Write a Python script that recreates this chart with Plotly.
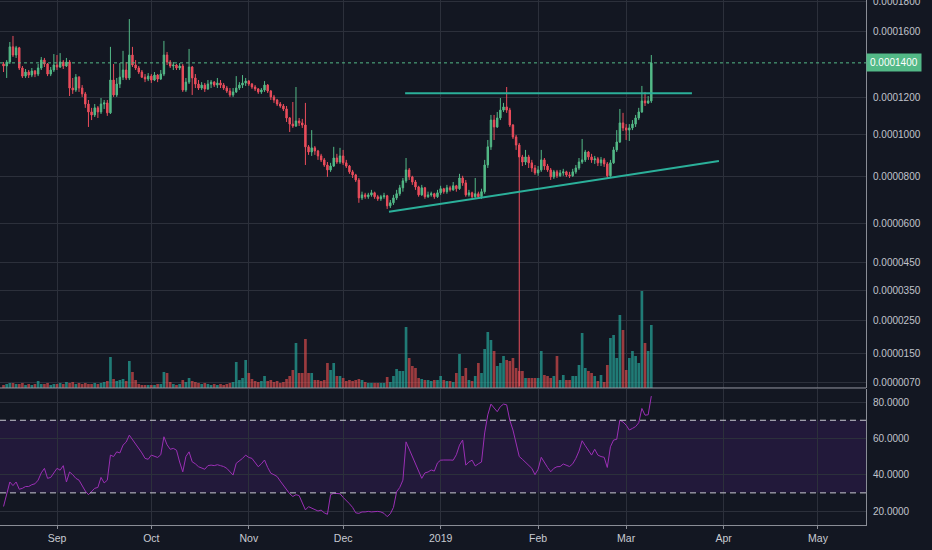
import numpy as np
import pandas as pd
import plotly.graph_objects as go

# ---------------- data (prices in satoshi, 1 sat = 1e-8) ----------------
START_DATE = "2018-08-15"
FIRST_OPEN = 13930

close_sats = [
    13810, 14050, 14990, 14480, 14930, 13690, 13210, 13450, 13270, 13510,
    13330, 13690, 14170, 13930, 13330, 13570, 13870, 13750, 14050, 13810,
    14050, 12520, 12410, 13150, 12520, 12190, 11630, 11200, 11040, 11420,
    11200, 11630, 11690, 11150, 12980, 12130, 12750, 13150, 13570, 13100,
    14480, 13870, 13690, 13450, 13150, 13040, 13210, 12980, 13270, 13040,
    13330, 14480, 14050, 13810, 13870, 13690, 13810, 12410, 12860, 13750,
    13100, 12750, 12520, 12690, 12470, 12750, 12860, 12690, 12810, 12690,
    12520, 12350, 12130, 12300, 12520, 12690, 12810, 12920, 12750, 12580,
    12470, 12300, 12410, 12690, 12350, 12020, 11850, 11630, 11520, 11360,
    10880, 10560, 10460, 10720, 10620, 10510, 9410, 9160, 9360, 9210,
    8970, 8780, 8540, 8310, 8490, 8870, 8680, 8970, 8640, 8490,
    8220, 8080, 7850, 7060, 7190, 7110, 7190, 7280, 7110, 7020,
    7110, 7150, 6720, 6850, 7060, 7240, 7500, 7810, 8310, 7990,
    7760, 7540, 7190, 7500, 7110, 7190, 7240, 7110, 7280, 7460,
    7330, 7500, 7410, 7590, 7460, 7940, 7720, 7190, 7280, 7110,
    7240, 7110, 7330, 8540, 9410, 10770, 10410, 10880, 11300, 11470,
    11300, 10510, 9900, 9500, 8920, 8680, 8920, 8640, 8400, 8170,
    8310, 8780, 8490, 8310, 7990, 8220, 8040, 8170, 8220, 8080,
    8040, 8220, 8400, 8680, 8780, 9160, 8920, 8780, 8830, 8640,
    8780, 8590, 8040, 8640, 9260, 9650, 10620, 10360, 10250, 10360,
    10560, 10880, 11200, 11800, 11690, 11800, 14000,
]
high_sats = [
    14050, 14170, 15300, 15690, 15050, 14990, 13810, 13630, 13570, 13690,
    13570, 13930, 14360, 14300, 13990, 13750, 14540, 14480, 14600, 14170,
    14300, 14170, 13100, 13330, 13210, 12690, 12300, 11850, 11420, 11630,
    11520, 11960, 11850, 11850, 14990, 13930, 13100, 13990, 14740, 14050,
    16810, 14990, 14170, 13810, 13570, 13330, 13390, 13330, 13450, 13330,
    13570, 15370, 14670, 14170, 14050, 13930, 13990, 13930, 13100, 14860,
    13810, 13330, 12980, 12860, 12810, 12980, 12980, 12920, 13100, 12980,
    12810, 12640, 12520, 12520, 13210, 12860, 13270, 13100, 12980, 12810,
    12690, 12520, 12520, 12920, 12750, 12410, 12130, 11910, 11740, 11630,
    11520, 10930, 11740, 12580, 10880, 10830, 11690, 9500, 10250, 9450,
    9260, 9070, 8870, 8680, 8640, 9410, 9070, 9360, 9260, 8780,
    8540, 8310, 8130, 7940, 7330, 7280, 7280, 7410, 7330, 7190,
    7190, 7280, 7190, 6970, 7190, 7410, 7630, 7940, 8870, 8400,
    8040, 7850, 7590, 7630, 7540, 7330, 7330, 7280, 7410, 7590,
    7500, 7630, 7590, 7760, 7630, 8130, 8040, 7850, 7410, 7330,
    7940, 7330, 7460, 8780, 9750, 11040, 11040, 11200, 11960, 11690,
    12580, 11420, 10560, 10000, 9600, 9020, 9260, 9020, 8780, 8540,
    8490, 9260, 8870, 8590, 8400, 8310, 8310, 8310, 8360, 8270,
    8220, 8360, 8540, 8870, 9800, 9260, 9210, 9070, 8970, 8920,
    8920, 8870, 8680, 8780, 9410, 10250, 11360, 11150, 10560, 10560,
    10770, 11040, 11420, 12640, 12300, 12070, 14480,
]
low_sats = [
    13450, 13100, 13930, 14360, 14300, 13570, 13100, 13100, 13100, 13150,
    13150, 13210, 13570, 13750, 13210, 13210, 13450, 13570, 13690, 13630,
    13750, 12070, 12190, 12300, 12300, 12020, 11420, 10410, 10770, 10930,
    10880, 11090, 11360, 10990, 11090, 12020, 12020, 12520, 12980, 12980,
    12980, 13750, 13570, 13330, 13100, 12860, 12920, 12810, 12920, 12860,
    12980, 13210, 13870, 13690, 13570, 13570, 13570, 12300, 12300, 12750,
    12130, 12520, 12410, 12410, 12300, 12410, 12520, 12580, 12520, 12520,
    12410, 12240, 12020, 12020, 12240, 12410, 12520, 12640, 12640, 12470,
    12350, 12190, 12190, 12300, 12240, 11850, 11690, 11520, 11420, 11250,
    10670, 10150, 10360, 10410, 10460, 10360, 8540, 9020, 8970, 9020,
    8780, 8680, 8450, 7990, 8220, 8450, 8590, 8590, 8540, 8400,
    8130, 7940, 7760, 6850, 6970, 7020, 7020, 7110, 7020, 6930,
    6930, 7020, 6590, 6630, 6760, 6970, 7150, 7330, 7720, 7850,
    7630, 7410, 7110, 7150, 7020, 7060, 7110, 7020, 7060, 7190,
    7240, 7240, 7330, 7370, 7330, 7410, 7590, 7110, 7110, 7020,
    7060, 7020, 7020, 7240, 8400, 9260, 9750, 10360, 10770, 11200,
    11150, 10410, 9800, 9260, 600, 8490, 8540, 8400, 8220, 8080,
    8040, 8220, 8310, 8220, 7850, 7900, 7940, 7990, 8040, 7990,
    7940, 7990, 8130, 8310, 8590, 8680, 8780, 8640, 8590, 8490,
    8490, 8450, 7940, 7990, 8590, 9160, 9600, 10200, 9750, 9700,
    10250, 10410, 10770, 11150, 11520, 11630, 11690,
]
volume = [
    3, 4, 5, 5, 4, 4, 5, 3, 4, 3, 4, 7, 4, 4, 5, 3, 4,
    4, 5, 4, 6, 5, 6, 4, 5, 4, 5, 4, 4, 5, 4, 5, 6, 7,
    31,
    9, 7, 8, 9, 7, 27, 16, 8,
    4, 3, 3, 3, 3, 3, 4, 4,
    16, 15, 6, 4, 3, 4,
    8, 6, 10, 7, 6, 5, 4, 5, 4, 3, 4, 3, 4, 3, 4, 5, 6,
    26, 8, 10, 28, 15, 9, 7, 6, 7, 12, 7, 8, 6, 7, 5, 6,
    9, 12, 18, 45, 15, 15, 49, 15, 15, 8,
    8, 7, 8, 25, 18, 25, 12, 12, 10, 7,
    8, 7, 8, 9, 8, 6, 5, 5, 5, 5, 5, 5,
    11, 6, 12, 19, 17, 17, 61, 30, 22, 20,
    10, 9, 8, 8, 7, 8, 8, 12, 8, 7, 7, 6,
    15, 34, 12, 20, 8, 7, 12, 25, 15,
    39, 56, 48, 37, 22, 25, 32, 28, 27, 30, 20, 17, 17,
    10, 10, 10, 10, 10, 37, 13, 12, 10,
    12, 32, 8, 13, 8, 8, 12, 12, 23, 55,
    20, 17, 15, 12, 7, 13, 6,
    23, 50, 53, 30, 73, 58, 18, 30, 37, 32, 25, 97, 45, 37, 63,
]
rsi = [
    22.5, 30, 36, 34, 36, 32, 32.5, 33.5, 33.5, 34.5,
    35, 37, 41, 43.5, 38, 38.5, 41, 43.5, 42.5, 45,
    36, 41.5, 40, 38, 37, 34, 31, 29, 31, 32.5,
    33, 38.5, 35.5, 37, 50.8, 50, 52.6, 52, 56.3, 58,
    61.8, 59.5, 57, 55, 52, 49, 48.5, 50.8, 50, 49.5,
    51, 60.9, 56.5, 54, 54.5, 53.5, 47, 41.6, 50, 52.6,
    47.1, 46, 44.4, 43.5, 43, 45, 45.3, 45, 45.5, 45,
    44.5, 43.5, 41.5, 39.8, 46.3, 47.5, 49, 50.8, 49.5, 49,
    46.5, 44.4, 46, 48.1, 44, 40.8, 40, 39, 36.5, 34,
    31.6, 29.5, 28, 29, 28.5, 25, 20.6, 22.4, 21.5, 21,
    20, 20.5, 19, 18.2, 29, 29.8, 29.8, 29.5, 27.5, 26,
    24, 22, 19, 18.7, 19.5, 19.5, 19.8, 19.5, 19.8, 19.8,
    19.5, 18.7, 16.9, 18.5, 22, 30.6, 33, 37, 58.1, 54,
    50, 46.3, 41.5, 38, 41, 41.5, 42.6, 42, 46.5, 48,
    48.1, 48.3, 48.1, 48, 51, 56.3, 59.1, 45.3, 47, 48,
    44.8, 46, 47, 63, 73, 78.9, 76.5, 74.7, 77.5, 78.9,
    78.5, 70, 64.6, 58, 50, 48.5, 47, 45, 43.5, 40,
    43, 49.6, 46.5, 44, 41.6, 43.5, 44.4, 44.5, 45.9, 45,
    44.5, 46, 49, 53, 58.7, 56, 53, 50.8, 54, 50.8,
    50, 49.6, 44, 55.4, 59.1, 59.5, 70.1, 69, 67.3, 64.6,
    65.5, 66.5, 68.6, 76.5, 72.8, 73, 83.3,
]

price_ticks = [0.00018, 0.00016, 0.00012, 0.0001, 0.00008, 0.00006,
               0.000045, 0.000035, 0.000025, 0.000015, 0.000007]
rsi_ticks = [20, 40, 60, 80]
month_ticks = ["2018-09-01", "2018-10-01", "2018-11-01", "2018-12-01", "2019-01-01",
               "2019-02-01", "2019-03-01", "2019-04-01", "2019-05-01"]
month_labels = ["Sep", "Oct", "Nov", "Dec", "2019", "Feb", "Mar", "Apr", "May"]
last_price = 0.00014
resistance_x = ["2018-12-20 17:00", "2019-03-21 22:00"]
resistance_y = [0.0001222, 0.0001222]
support_x = ["2018-12-15 14:00", "2019-03-30 12:00"]
support_y = [0.0000647, 0.0000873]
rsi_upper, rsi_lower = 70, 30

# ---------------- styling ----------------
SAT = 1e-8
OFFSET = 1e-4          # the chart's price scale is logarithmic in (price + 1e-4)
BG = "#131722"
GRID = "#2c303b"
AXIS = "#8a8d96"
TXT = "#c0c3cb"
UP = "#53b987"
DOWN = "#eb4d5c"
LINE = "#2bb09a"
FONT = "Liberation Sans, Arial, sans-serif"
X_RANGE = ["2018-08-13 21:00", "2019-05-16 06:30"]
Y_LOG_RANGE = [-3.97669, -3.55078]
PRICE_DOM = [0.2610, 1.0]
RSI_DOM = [0.0, 0.259]

n = len(close_sats)
assert len(high_sats) == n and len(low_sats) == n and len(volume) == n and len(rsi) == n

dates = pd.date_range(START_DATE, periods=n, freq="D")
close = np.array(close_sats, dtype=float) * SAT
high = np.array(high_sats, dtype=float) * SAT
low = np.array(low_sats, dtype=float) * SAT
open_ = np.concatenate([[FIRST_OPEN], close_sats[:-1]]).astype(float) * SAT

vol_colors = ["rgba(38,166,154,0.7)" if c >= o else "rgba(239,83,80,0.62)"
              for o, c in zip(open_, close)]

fig = go.Figure()

fig.add_trace(go.Bar(
    x=dates, y=volume, marker=dict(color=vol_colors, line=dict(width=0)),
    xaxis="x", yaxis="y", hoverinfo="skip",
))
fig.add_trace(go.Candlestick(
    x=dates, open=open_ + OFFSET, high=high + OFFSET, low=low + OFFSET, close=close + OFFSET,
    increasing=dict(line=dict(color=UP, width=1), fillcolor=UP),
    decreasing=dict(line=dict(color=DOWN, width=1), fillcolor=DOWN),
    xaxis="x", yaxis="y2", hoverinfo="skip",
))
fig.add_trace(go.Scatter(
    x=X_RANGE, y=[last_price + OFFSET] * 2, mode="lines",
    line=dict(color=UP, width=1, dash="dot"), xaxis="x", yaxis="y2", hoverinfo="skip",
))
fig.add_trace(go.Scatter(
    x=resistance_x, y=np.array(resistance_y) + OFFSET, mode="lines",
    line=dict(color=LINE, width=2), xaxis="x", yaxis="y2", hoverinfo="skip",
))
fig.add_trace(go.Scatter(
    x=support_x, y=np.array(support_y) + OFFSET, mode="lines",
    line=dict(color=LINE, width=2), xaxis="x", yaxis="y2", hoverinfo="skip",
))
fig.add_trace(go.Scatter(
    x=dates, y=rsi, mode="lines", line=dict(color="#9b2fb5", width=1),
    xaxis="x2", yaxis="y3", hoverinfo="skip",
))

tickfont = dict(family=FONT, size=10, color=TXT)

fig.update_layout(
    width=932, height=550,
    margin=dict(l=0, r=66, t=0, b=25, autoexpand=False),
    paper_bgcolor=BG, plot_bgcolor=BG,
    showlegend=False, hovermode=False, bargap=0.15, boxgap=0.35,
    xaxis=dict(domain=[0, 1], anchor="y", type="date", range=X_RANGE,
               tickvals=month_ticks, showticklabels=False, showgrid=True,
               gridcolor=GRID, gridwidth=1, zeroline=False, ticks="",
               automargin=False, rangeslider=dict(visible=False)),
    xaxis2=dict(domain=[0, 1], anchor="y3", type="date", matches="x",
                tickvals=month_ticks, ticktext=month_labels, showgrid=True,
                gridcolor=GRID, gridwidth=1, zeroline=False, automargin=False,
                showline=True, linecolor=AXIS, linewidth=1,
                ticks="outside", ticklen=3, tickcolor=AXIS,
                tickfont=dict(family=FONT, size=10.5, color="#c8cbd2")),
    yaxis=dict(domain=PRICE_DOM, anchor="x", range=[0, max(volume) * 4.0],
               showgrid=False, showticklabels=False, zeroline=False, ticks="",
               automargin=False),
    yaxis2=dict(overlaying="y", anchor="x", side="right", type="log",
                range=Y_LOG_RANGE,
                tickvals=[t + OFFSET for t in price_ticks],
                ticktext=[f"{t:.7f}" for t in price_ticks],
                ticklabeloverflow="allow", automargin=False,
                showgrid=True, gridcolor=GRID, gridwidth=1, zeroline=False,
                showline=True, linecolor=AXIS, linewidth=1,
                ticks="outside", ticklen=4, tickcolor=BG, tickfont=tickfont),
    yaxis3=dict(domain=RSI_DOM, anchor="x2", side="right", range=[12.3, 87.2],
                tickvals=rsi_ticks, ticktext=[f"{t:.4f}" for t in rsi_ticks],
                automargin=False,
                showgrid=True, gridcolor=GRID, gridwidth=1, zeroline=False,
                showline=True, linecolor=AXIS, linewidth=1,
                ticks="outside", ticklen=4, tickcolor=BG, tickfont=tickfont),
    shapes=[
        dict(type="rect", xref="paper", yref="y3", x0=0, x1=1, y0=rsi_lower, y1=rsi_upper,
             fillcolor="rgba(150,40,240,0.12)", line=dict(width=0), layer="below"),
        dict(type="line", xref="paper", yref="y3", x0=0, x1=1, y0=rsi_upper, y1=rsi_upper,
             line=dict(color="#c9cad2", width=1, dash="6px,4px")),
        dict(type="line", xref="paper", yref="y3", x0=0, x1=1, y0=rsi_lower, y1=rsi_lower,
             line=dict(color="#c9cad2", width=1, dash="6px,4px")),
        dict(type="line", xref="paper", yref="paper", x0=0, x1=1,
             y0=PRICE_DOM[0], y1=PRICE_DOM[0], line=dict(color="#9598a1", width=1)),
    ],
    annotations=[
        dict(xref="paper", yref="y2", x=1, y=float(np.log10(last_price + OFFSET)),
             xanchor="left", yanchor="middle", showarrow=False,
             text=f"{last_price:.7f}", bgcolor=UP, borderpad=3,
             font=dict(family=FONT, size=10, color="#ffffff")),
    ],
)

fig.write_html("out.html", include_plotlyjs=True, full_html=True,
               config={"displayModeBar": False},
               post_script="document.body.style.margin='0';document.body.style.overflow='hidden';")
